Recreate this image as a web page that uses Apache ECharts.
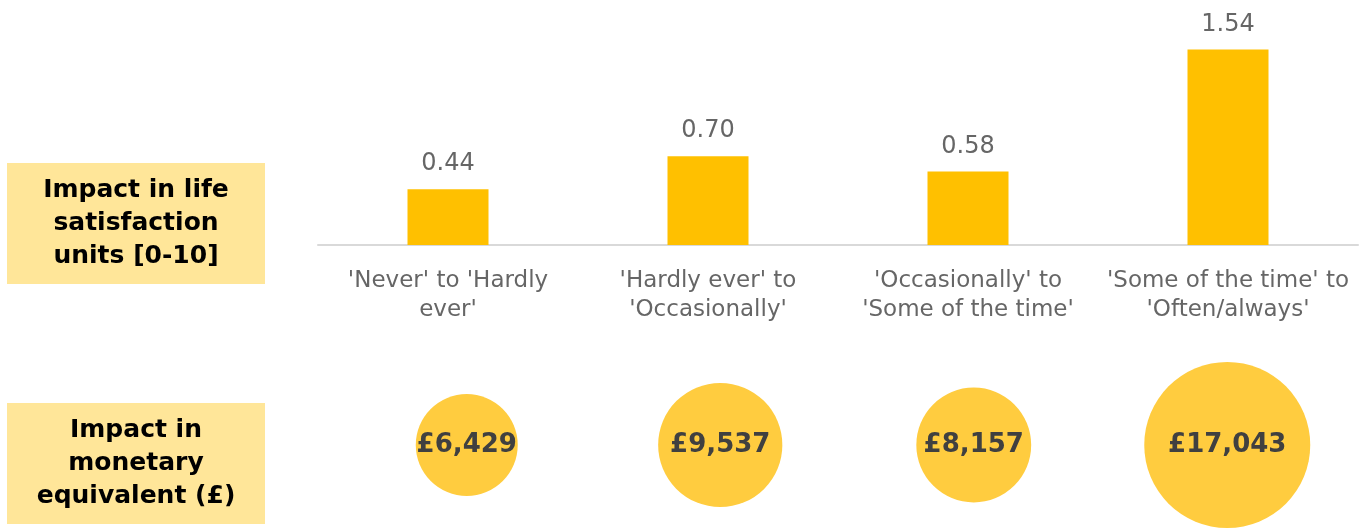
<!DOCTYPE html>
<html>
<head>
<meta charset="utf-8">
<script src="https://cdn.jsdelivr.net/npm/echarts@6/dist/echarts.min.js"></script>
<style>
  html, body { margin: 0; padding: 0; background: #fff; }
  #main { width: 1369px; height: 529px; }
</style>
</head>
<body>
<div id="main"></div>
<script>
// data
var categories = [
  "'Never' to 'Hardly\never'",
  "'Hardly ever' to\n'Occasionally'",
  "'Occasionally' to\n'Some of the time'",
  "'Some of the time' to\n'Often/always'"
];
var lifeSatisfaction = [0.44, 0.70, 0.58, 1.54];
var monetary = [6429, 9537, 8157, 17043];
var rowLabels = ['Impact in life\nsatisfaction\nunits [0-10]', 'Impact in\nmonetary\nequivalent (£)'];

var FONT = 'DejaVu Sans';
var myChart = echarts.init(document.getElementById('main'));

var option = {
  animation: false,
  grid: [
    { left: 318, right: 11, top: 42, bottom: 284 },
    { left: 340, right: 15, top: 362, bottom: 1 }
  ],
  xAxis: [
    {
      type: 'category', gridIndex: 0, data: categories,
      axisLine: { lineStyle: { color: '#d9d9d9', width: 2 } },
      axisTick: { show: false },
      axisLabel: {
        color: '#666', fontFamily: FONT, fontSize: 23, lineHeight: 29,
        margin: 22, interval: 0
      }
    },
    { type: 'category', gridIndex: 1, data: categories, show: false }
  ],
  yAxis: [
    { type: 'value', gridIndex: 0, min: 0, max: 1.6, show: false, splitLine: { show: false } },
    { type: 'value', gridIndex: 1, min: 0, max: 2, show: false, splitLine: { show: false } }
  ],
  graphic: rowLabels.map(function (txt, i) {
    var top = i === 0 ? 163 : 403;
    return {
      type: 'group', left: 7, top: top,
      children: [
        { type: 'rect', shape: { x: 0, y: 0, width: 258, height: 121 }, style: { fill: '#ffe699' } },
        {
          type: 'text', x: 129, y: 60.5,
          style: {
            text: txt, fill: '#000', font: 'bold 25px "' + FONT + '"',
            align: 'center', verticalAlign: 'middle', lineHeight: 33
          }
        }
      ]
    };
  }),
  series: [
    {
      type: 'bar', xAxisIndex: 0, yAxisIndex: 0,
      data: lifeSatisfaction, barWidth: 81,
      itemStyle: { color: '#ffc000' },
      label: {
        show: true, position: 'top', distance: 13,
        color: '#666', fontFamily: FONT, fontSize: 24,
        formatter: function (p) { return p.value.toFixed(2); }
      }
    },
    {
      type: 'scatter', xAxisIndex: 1, yAxisIndex: 1,
      data: monetary.map(function (v, i) { return [i, 1, v]; }),
      symbolSize: function (d) { return 1.2716 * Math.sqrt(d[2]); },
      itemStyle: { color: '#ffcc3f', opacity: 1 },
      label: {
        show: true, position: 'inside',
        color: '#404040', fontFamily: FONT, fontWeight: 'bold', fontSize: 26,
        formatter: function (p) { return '£' + p.value[2].toLocaleString('en-GB'); }
      }
    }
  ]
};
myChart.setOption(option);
</script>
</body>
</html>
